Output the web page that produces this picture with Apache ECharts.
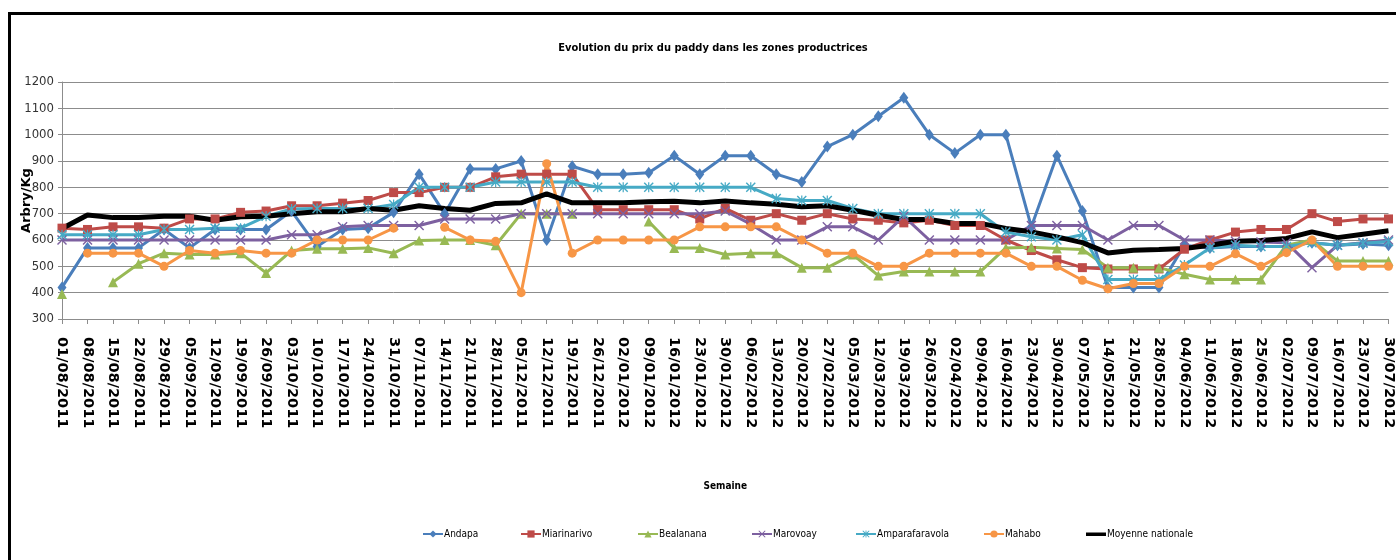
<!DOCTYPE html>
<html>
<head>
<meta charset="utf-8">
<title>Evolution du prix du paddy</title>
<script src="https://cdn.jsdelivr.net/npm/echarts@6/dist/echarts.min.js"></script>
<style>
  html, body { margin: 0; padding: 0; background: #ffffff; }
  #chart { width: 1396px; height: 560px; }
</style>
</head>
<body>
<div id="chart"></div>
<script>
// weekly dates (the last one is cut by the right edge in the source picture)
const weeks = [
  '01/08/2011', '08/08/2011', '15/08/2011', '22/08/2011', '29/08/2011',
  '05/09/2011', '12/09/2011', '19/09/2011', '26/09/2011', '03/10/2011',
  '10/10/2011', '17/10/2011', '24/10/2011', '31/10/2011', '07/11/2011',
  '14/11/2011', '21/11/2011', '28/11/2011', '05/12/2011', '12/12/2011',
  '19/12/2011', '26/12/2011', '02/01/2012', '09/01/2012', '16/01/2012',
  '23/01/2012', '30/01/2012', '06/02/2012', '13/02/2012', '20/02/2012',
  '27/02/2012', '05/03/2012', '12/03/2012', '19/03/2012', '26/03/2012',
  '02/04/2012', '09/04/2012', '16/04/2012', '23/04/2012', '30/04/2012',
  '07/05/2012', '14/05/2012', '21/05/2012', '28/05/2012', '04/06/2012',
  '11/06/2012', '18/06/2012', '25/06/2012', '02/07/2012', '09/07/2012',
  '16/07/2012', '23/07/2012', '30/07/2012'
];

// prix en Ariary / kg, null = pas de relevé
const andapa = [
  420, 570, 570, 570, 640, 570, 640, 640, 640, 710,
  575, 640, 645, 705, 850, 700, 870, 870, 900, 600,
  880, 850, 850, 855, 920, 850, 920, 920, 850, 820,
  955, 1000, 1070, 1140, 1000, 930, 1000, 1000, 650, 920,
  710, 420, 420, 420, 580, 570, 575, 575, 575, 590,
  580, 585, 580
];
const miarinarivo = [
  645, 640, 650, 650, 645, 680, 680, 705, 710, 730,
  730, 740, 750, 780, 780, 800, 800, 840, 850, 850,
  850, 715, 715, 715, 715, 680, 720, 675, 700, 675,
  700, 680, 675, 665, 675, 655, 655, 600, 560, 525,
  495, 490, 490, 490, 565, 600, 630, 640, 640, 700,
  670, 680, 680
];
const bealanana = [
  395, null, 440, 510, 550, 545, 545, 550, 475, 560,
  567, 567, 570, 550, 598, 600, 600, 580, 700, 700,
  700, null, null, 670, 570, 570, 545, 550, 550, 495,
  495, 545, 465, 480, 480, 480, 480, 570, 572, 568,
  564, 495, 495, 495, 470, 450, 450, 450, 580, 600,
  520, 520, 520
];
const marovoay = [
  600, 600, 600, 600, 600, 600, 600, 600, 600, 620,
  620, 650, 655, 655, 655, 680, 680, 680, 700, 700,
  700, 700, 700, 700, 700, 700, 710, 660, 600, 600,
  650, 650, 600, 690, 600, 600, 600, 600, 655, 655,
  655, 600, 655, 655, 600, 600, 595, 592, 590, 495,
  580, 590, 600
];
const amparafaravola = [
  620, 620, 620, 620, 640, 640, 645, 645, 690, 718,
  720, 720, 720, 735, 800, 800, 800, 820, 820, 820,
  820, 800, 800, 800, 800, 800, 800, 800, 758, 750,
  750, 720, 700, 700, 700, 700, 700, 630, 612, 600,
  620, 450, 450, 450, 505, 570, 580, 575, 575, 590,
  580, 588, 594
];
const mahabo = [
  null, 550, 550, 550, 500, 560, 550, 560, 550, 550,
  600, 600, 600, 645, null, 648, 600, 595, 400, 890,
  550, 600, 600, 600, 600, 650, 650, 650, 650, 600,
  550, 550, 500, 500, 550, 550, 550, 550, 500, 500,
  447, 415, 435, 435, 500, 500, 548, 500, 552, 600,
  500, 500, 500
];
const moyenne = [
  644, 695, 685, 685, 690, 690, 675, 688, 690, 700,
  707, 707, 720, 713, 730, 720, 713, 739, 741, 775,
  741, 741, 741, 745, 747, 741, 748, 741, 736, 726,
  730, 713, 694, 678, 678, 663, 663, 644, 631, 612,
  590, 551, 561, 564, 568, 580, 595, 598, 606, 631,
  609, 622, 635
];

const narrowFont = "'Liberation Sans Narrow', 'DejaVu Sans Condensed', 'Roboto', sans-serif";
const wideFont = "'DejaVu Sans', Verdana, sans-serif";

// Excel-like markers
const xMark = 'path://M0,1 L1,0 L5,4 L9,0 L10,1 L6,5 L10,9 L9,10 L5,6 L1,10 L0,9 L4,5 Z';
const starMark = 'path://M0,1 L1,0 L5,4 L9,0 L10,1 L6,5 L10,9 L9,10 L5,6 L1,10 L0,9 L4,5 Z M4.4,0 L5.6,0 L5.6,10 L4.4,10 Z';
// thick bar centred in a 20x9 box (the tiny end pieces only keep the box size)
const barIcon = 'path://M0,0 L0.01,0 L0.01,0.01 Z M0,3 L20,3 L20,6.5 L0,6.5 Z M0,9 L0.01,9 L0.01,8.99 Z';

const seriesDefinitions = [
  { name: 'Andapa', data: andapa, color: '#4A7EBB', symbol: 'diamond', symbolSize: [9, 12], legendLeft: 422 },
  { name: 'Miarinarivo', data: miarinarivo, color: '#BE4B48', symbol: 'rect', symbolSize: 9, legendLeft: 520 },
  { name: 'Bealanana', data: bealanana, color: '#98B954', symbol: 'triangle', symbolSize: 10, legendLeft: 637 },
  { name: 'Marovoay', data: marovoay, color: '#7D60A0', symbol: xMark, symbolSize: 10, legendLeft: 751 },
  { name: 'Amparafaravola', data: amparafaravola, color: '#46AAC5', symbol: starMark, symbolSize: 10, legendLeft: 855 },
  { name: 'Mahabo', data: mahabo, color: '#F79646', symbol: 'circle', symbolSize: 9, legendLeft: 983 },
  { name: 'Moyenne nationale', data: moyenne, color: '#000000', symbol: 'none', symbolSize: 0, width: 5, legendLeft: 1086 }
];

function legendFor(definition) {
  const lineOnly = definition.symbol === 'none';
  return {
    left: definition.legendLeft,
    top: 529,
    padding: 0,
    itemWidth: 20,
    itemHeight: 9,
    itemGap: 0,
    textStyle: { fontFamily: narrowFont, fontSize: 10, color: '#000000', padding: [0, 0, 0, -4] },
    data: [lineOnly ? { name: definition.name, icon: barIcon } : definition.name]
  };
}

const chart = echarts.init(document.getElementById('chart'), null, { renderer: 'canvas' });

chart.setOption({
  animation: false,
  backgroundColor: '#ffffff',
  title: {
    text: 'Evolution du prix du paddy dans les zones productrices',
    left: 708,
    top: 38,
    textAlign: 'center',
    textStyle: {
      fontFamily: narrowFont,
      fontSize: 11,
      fontWeight: 'bold',
      color: '#000000'
    }
  },
  graphic: [{
    type: 'rect',
    shape: { x: 9.5, y: 13.5, width: 1440, height: 600 },
    style: { fill: 'none', stroke: '#000000', lineWidth: 3 },
    silent: true
  }],
  legend: seriesDefinitions.map(legendFor),
  grid: {
    left: 62,
    right: 2,
    top: 82,
    bottom: 241
  },
  xAxis: {
    type: 'category',
    data: weeks,
    boundaryGap: false,
    name: 'Semaine',
    nameLocation: 'middle',
    nameGap: 162,
    nameTextStyle: { fontFamily: narrowFont, fontSize: 10, fontWeight: 'bold', color: '#000000' },
    axisLine: { lineStyle: { color: '#8c8c8c', width: 1 } },
    axisTick: { show: true, length: 5, lineStyle: { color: '#8c8c8c' } },
    axisLabel: {
      interval: 0,
      rotate: -90,
      margin: 18,
      fontFamily: wideFont,
      fontSize: 14.5,
      fontWeight: 'bold',
      color: '#000000'
    },
    splitLine: { show: false }
  },
  yAxis: {
    type: 'value',
    min: 300,
    max: 1200,
    interval: 100,
    name: 'Arbry/Kg',
    nameLocation: 'middle',
    nameRotate: 90,
    nameGap: 29,
    nameMoveOverlap: false,
    nameTextStyle: { fontFamily: wideFont, fontSize: 13, fontWeight: 'bold', color: '#000000' },
    axisLine: { show: true, lineStyle: { color: '#8c8c8c', width: 1 } },
    axisTick: { show: true, length: 4, lineStyle: { color: '#8c8c8c' } },
    axisLabel: {
      margin: 8,
      fontFamily: narrowFont,
      fontSize: 13,
      color: '#333333',
      formatter: value => String(value)
    },
    splitLine: { show: true, lineStyle: { color: '#8c8c8c', width: 1 } }
  },
  series: seriesDefinitions.map(definition => ({
    name: definition.name,
    type: 'line',
    data: definition.data,
    connectNulls: false,
    symbol: definition.symbol,
    symbolSize: definition.symbolSize,
    showSymbol: definition.symbol !== 'none',
    emphasis: { disabled: true },
    itemStyle: { color: definition.color },
    lineStyle: { color: definition.color, width: definition.width || 3 }
  }))
});
</script>
</body>
</html>
